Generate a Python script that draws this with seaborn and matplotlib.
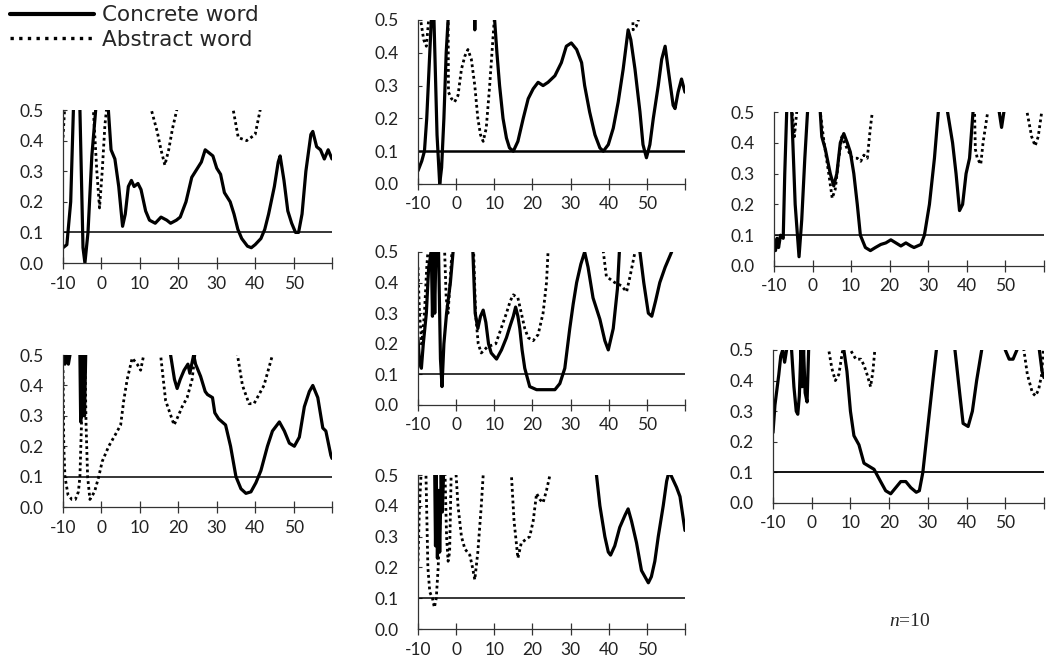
import matplotlib
matplotlib.use('Agg')
import matplotlib.pyplot as plt
import seaborn as sns
from matplotlib.lines import Line2D

# p-value curves, (time, p) pairs; 0.8 = off the top of the 0.5 scale
lt_concrete = [(-10, 0.05), (-9, 0.06), (-8, 0.2), (-7.3, 0.5), (-7, 0.8), (-6, 0.8), (-5.6, 0.5),
               (-4.8, 0.05), (-4.3, 0.0), (-3.5, 0.1), (-2.5, 0.35), (-1.5, 0.5), (-1, 0.8), (1.5, 0.8),
               (1.8, 0.5), (2.5, 0.37), (3.5, 0.34), (4.5, 0.25), (5.5, 0.12), (6.2, 0.16), (7, 0.25),
               (7.8, 0.27), (8.5, 0.25), (9.5, 0.26), (10.3, 0.24), (11.5, 0.17), (12.5, 0.14), (14, 0.13),
               (15.5, 0.15), (17, 0.14), (18, 0.13), (19.5, 0.14), (20.5, 0.15), (22, 0.2), (23.5, 0.28),
               (25, 0.31), (26, 0.33), (27, 0.37), (28, 0.36), (29, 0.35), (30, 0.31), (31, 0.29),
               (32, 0.23), (33.5, 0.2), (34.5, 0.16), (35.5, 0.11), (36.5, 0.08), (38, 0.055), (39, 0.05),
               (40, 0.06), (41.5, 0.08), (42.5, 0.11), (43.5, 0.16), (45, 0.25), (46, 0.33), (46.5, 0.35),
               (47.5, 0.27), (48.5, 0.17), (49.5, 0.13), (50.5, 0.1), (51.3, 0.1), (52.2, 0.16), (53.2, 0.3),
               (54.5, 0.42), (55, 0.43), (56, 0.38), (57, 0.37), (58, 0.34), (59, 0.37), (60, 0.34)]
lt_abstract = [(-10, 0.41), (-9.6, 0.5), (-9.3, 0.8), (-2.6, 0.8), (-2.1, 0.5), (-1.2, 0.3), (-0.5, 0.18),
               (0.2, 0.3), (0.9, 0.45), (1.3, 0.5), (1.8, 0.8), (12.5, 0.8), (13, 0.5), (14.5, 0.43),
               (15.5, 0.37), (16.5, 0.32), (17.5, 0.37), (18.5, 0.44), (19.6, 0.5), (20, 0.8), (34, 0.8),
               (34.3, 0.5), (35.6, 0.41), (37.8, 0.4), (40, 0.42), (41.3, 0.5), (41.8, 0.8), (60, 0.8)]

lb_concrete = [(-10, 0.8), (-9.9, 0.5), (-9.5, 0.47), (-9, 0.5), (-8.6, 0.47), (-8.2, 0.5), (-7.8, 0.8),
               (-6, 0.8), (-5.6, 0.5), (-5.4, 0.28), (-5.1, 0.5), (-4.9, 0.3), (-4.6, 0.5), (-4.4, 0.3),
               (-4.1, 0.5), (-3.8, 0.8), (17.5, 0.8), (18, 0.5), (19, 0.42), (19.7, 0.39), (20.5, 0.42),
               (21.5, 0.45), (22.5, 0.47), (23, 0.44), (24, 0.5), (24.5, 0.47), (25.8, 0.43), (27, 0.38),
               (27.6, 0.37), (28.9, 0.36), (29.5, 0.31), (30.5, 0.29), (32.3, 0.27), (33.6, 0.2), (35, 0.1),
               (36.3, 0.06), (37.6, 0.045), (38.9, 0.05), (40.2, 0.08), (41.5, 0.12), (43.2, 0.2),
               (44.5, 0.25), (46.3, 0.28), (47.6, 0.25), (48.9, 0.21), (50.2, 0.2), (51.5, 0.23),
               (52.8, 0.33), (54.1, 0.38), (55, 0.4), (56.3, 0.36), (57.6, 0.26), (58.4, 0.25),
               (59.7, 0.17), (60, 0.16)]
lb_abstract = [(-10, 0.45), (-9.8, 0.2), (-9.5, 0.1), (-8.7, 0.04), (-7.7, 0.025), (-6.8, 0.025),
               (-6.0, 0.05), (-5.6, 0.1), (-5.2, 0.27), (-5.0, 0.5), (-4.8, 0.8), (-4.5, 0.8), (-4.3, 0.5),
               (-4.0, 0.27), (-3.6, 0.1), (-3.0, 0.025), (-1.8, 0.05), (-0.7, 0.1), (0.2, 0.15), (1.9, 0.2),
               (3.7, 0.24), (5, 0.27), (5.8, 0.35), (6.7, 0.42), (8, 0.49), (9.3, 0.47), (10.2, 0.45),
               (11, 0.5), (11.4, 0.8), (15, 0.8), (15.4, 0.5), (16.7, 0.35), (18.9, 0.27), (20, 0.3),
               (21, 0.33), (22.3, 0.36), (23.6, 0.42), (24.3, 0.5), (24.8, 0.8), (35, 0.8), (35.4, 0.5),
               (36.7, 0.4), (38.4, 0.34), (39.7, 0.34), (42.3, 0.4), (44.5, 0.5), (45, 0.8), (60, 0.8)]

mt_concrete = [(-10, 0.04), (-9, 0.07), (-8.3, 0.1), (-7.7, 0.2), (-6.9, 0.4), (-6.5, 0.5), (-6.2, 0.8),
               (-5.8, 0.5), (-5.0, 0.15), (-4.3, 0.0), (-3.8, 0.05), (-3.2, 0.2), (-2.6, 0.4), (-2.1, 0.5),
               (-1.8, 0.8), (4.5, 0.8), (4.9, 0.47), (5.3, 0.8), (9.8, 0.8), (10.1, 0.5), (10.7, 0.4),
               (11.4, 0.3), (12.3, 0.2), (13.2, 0.14), (14, 0.11), (15, 0.1), (16.2, 0.13), (17.6, 0.2),
               (18.9, 0.26), (20.2, 0.29), (21.5, 0.31), (22.8, 0.3), (24.1, 0.31), (25.9, 0.33),
               (27.6, 0.37), (28.9, 0.42), (30.2, 0.43), (31.6, 0.41), (32.9, 0.37), (33.7, 0.3), (35, 0.22),
               (36.4, 0.15), (37.7, 0.11), (38.6, 0.1), (39.9, 0.12), (41.2, 0.17), (42.5, 0.25),
               (43.8, 0.35), (45.1, 0.47), (45.8, 0.44), (46.9, 0.35), (48.2, 0.22), (49, 0.12),
               (49.9, 0.08), (50.8, 0.12), (51.7, 0.2), (53, 0.3), (53.9, 0.38), (54.8, 0.42), (55.6, 0.35),
               (56.9, 0.24), (57.4, 0.23), (58.2, 0.28), (59.1, 0.32), (60, 0.28)]
mt_abstract = [(-9.6, 0.8), (-9.3, 0.5), (-8.5, 0.44), (-7.8, 0.42), (-7.2, 0.5), (-6.9, 0.8), (-2.4, 0.8),
               (-2.1, 0.5), (-2.0, 0.28), (-1.2, 0.26), (-0.4, 0.25), (0.5, 0.27), (1.4, 0.35), (2.3, 0.39),
               (3.1, 0.41), (4, 0.38), (4.9, 0.3), (5.7, 0.2), (6.4, 0.15), (7.1, 0.13), (7.9, 0.17),
               (8.8, 0.3), (9.7, 0.45), (10, 0.5), (10.3, 0.8), (45.8, 0.8), (46.4, 0.47), (47.2, 0.48),
               (47.8, 0.5), (48.2, 0.8)]

mm_concrete = [(-10, 0.22), (-9.6, 0.14), (-9.1, 0.12), (-8.6, 0.2), (-7.8, 0.3), (-7.2, 0.45), (-6.5, 0.5),
               (-6.2, 0.29), (-5.9, 0.5), (-5.6, 0.3), (-5.3, 0.5), (-5.0, 0.8), (-4.6, 0.5), (-4.1, 0.15),
               (-3.7, 0.06), (-3.2, 0.2), (-2.5, 0.3), (-1.5, 0.4), (-0.8, 0.5), (-0.5, 0.8), (4.1, 0.8),
               (4.4, 0.5), (5.0, 0.3), (5.7, 0.25), (6.4, 0.29), (7.1, 0.31), (7.8, 0.27), (8.5, 0.2),
               (9.2, 0.17), (10.6, 0.15), (11.9, 0.18), (13.2, 0.22), (14.2, 0.26), (15, 0.29), (15.6, 0.32),
               (16.2, 0.29), (16.7, 0.25), (17.3, 0.18), (18, 0.12), (19.3, 0.06), (21.1, 0.05),
               (23.7, 0.05), (25.9, 0.05), (27.2, 0.07), (28.5, 0.12), (29.8, 0.25), (30.7, 0.33),
               (31.6, 0.4), (32.7, 0.46), (33.7, 0.5), (34.6, 0.45), (35.9, 0.35), (37.7, 0.28), (39.0, 0.21),
               (39.9, 0.18), (41.2, 0.25), (42.3, 0.38), (42.8, 0.5), (43.2, 0.8), (47.8, 0.8), (48.2, 0.5),
               (49.2, 0.4), (50.4, 0.3), (51.3, 0.29), (52.3, 0.34), (53.4, 0.4), (54.8, 0.45), (56.5, 0.5),
               (57, 0.8), (60, 0.8)]
mm_abstract = [(-10, 0.45), (-9.6, 0.3), (-9.0, 0.2), (-8.3, 0.3), (-7.7, 0.45), (-7.4, 0.5), (-7.1, 0.8),
               (-3.3, 0.8), (-3.0, 0.5), (-2.6, 0.35), (-2.1, 0.3), (-1.5, 0.42), (-1.1, 0.5), (-0.8, 0.8),
               (4.3, 0.8), (4.6, 0.5), (5.1, 0.3), (5.8, 0.2), (6.6, 0.17), (8.2, 0.19), (10.4, 0.2),
               (11.8, 0.25), (13.2, 0.3), (14.2, 0.34), (15, 0.36), (16.2, 0.35), (17.1, 0.3), (18.0, 0.25),
               (18.9, 0.22), (20.2, 0.21), (21.5, 0.23), (22.8, 0.3), (23.7, 0.4), (24.1, 0.5), (24.4, 0.8),
               (38.3, 0.8), (38.6, 0.5), (39.4, 0.42), (41.6, 0.4), (43.3, 0.39), (44.7, 0.37), (45.6, 0.42),
               (46.9, 0.5), (47.3, 0.8), (60, 0.8)]

mb_concrete = [(-6.0, 0.8), (-5.6, 0.5), (-5.4, 0.27), (-5.2, 0.5), (-4.9, 0.23), (-4.6, 0.45), (-4.3, 0.25),
               (-3.9, 0.5), (-3.6, 0.38), (-3.3, 0.5), (-3.0, 0.8), (36.4, 0.8), (36.8, 0.5), (37.7, 0.4),
               (39, 0.3), (39.9, 0.25), (40.5, 0.24), (41.6, 0.27), (42.9, 0.33), (44.3, 0.37), (45.1, 0.39),
               (46, 0.35), (47.3, 0.28), (48.6, 0.19), (49.5, 0.17), (50.4, 0.15), (51.2, 0.17), (52.1, 0.22),
               (53, 0.3), (54.3, 0.4), (55.2, 0.48), (55.6, 0.5), (56, 0.8), (56.3, 0.5), (57.8, 0.46),
               (58.7, 0.43), (60, 0.32)]
mb_abstract = [(-10, 0.22), (-9.6, 0.4), (-9.2, 0.5), (-8.8, 0.8), (-8.2, 0.8), (-7.9, 0.5), (-7.4, 0.2),
               (-6.9, 0.12), (-6.2, 0.1), (-5.7, 0.07), (-5.2, 0.1), (-4.7, 0.2), (-4.2, 0.35), (-3.8, 0.5),
               (-3.5, 0.8), (-3.2, 0.8), (-2.9, 0.5), (-2.5, 0.3), (-2.1, 0.22), (-1.7, 0.25), (-1.3, 0.5),
               (-1.0, 0.8), (-0.3, 0.8), (0, 0.5), (0.5, 0.4), (1.4, 0.3), (2.3, 0.26), (3.6, 0.24),
               (4.3, 0.2), (4.9, 0.16), (5.7, 0.25), (6.6, 0.4), (7.1, 0.5), (7.5, 0.8), (14.2, 0.8),
               (14.5, 0.5), (15.2, 0.35), (16.2, 0.23), (17.1, 0.28), (18.2, 0.29), (19.3, 0.3), (20.2, 0.35),
               (21.1, 0.44), (22, 0.42), (22.8, 0.41), (23.7, 0.45), (24.6, 0.5), (25, 0.8), (60, 0.8)]

rt_concrete = [(-10, 0.07), (-9.6, 0.05), (-9.2, 0.09), (-8.8, 0.06), (-8.3, 0.1), (-7.6, 0.09), (-7.2, 0.3),
               (-6.7, 0.5), (-6.4, 0.8), (-5.7, 0.8), (-5.4, 0.5), (-4.5, 0.2), (-3.5, 0.03), (-2.8, 0.15),
               (-2.0, 0.35), (-1.3, 0.5), (-1.0, 0.8), (1.7, 0.8), (2.0, 0.5), (2.4, 0.42), (3.3, 0.38),
               (4.6, 0.3), (5.5, 0.26), (6.3, 0.3), (7.2, 0.4), (8.1, 0.43), (9, 0.4), (9.8, 0.37),
               (10.7, 0.3), (11.6, 0.2), (12.4, 0.1), (13.7, 0.06), (15, 0.05), (16.3, 0.06), (17.7, 0.07),
               (19, 0.075), (20.3, 0.085), (21.6, 0.075), (22.9, 0.065), (24.2, 0.075), (25.5, 0.065),
               (26.3, 0.06), (28.1, 0.07), (29, 0.1), (30.3, 0.2), (31.6, 0.35), (32.6, 0.5), (33, 0.8),
               (34.6, 0.8), (35, 0.5), (36.3, 0.4), (37.2, 0.3), (38.1, 0.18), (38.9, 0.2), (39.8, 0.3),
               (40.7, 0.35), (41.6, 0.5), (42, 0.8), (48, 0.8), (48.4, 0.5), (49, 0.45), (49.6, 0.5),
               (50, 0.8), (60, 0.8)]
rt_abstract = [(-5.6, 0.8), (-5.3, 0.5), (-4.7, 0.42), (-4.1, 0.5), (-3.8, 0.8), (1.7, 0.8), (2.0, 0.5),
               (3.0, 0.4), (4.2, 0.3), (5.1, 0.22), (5.9, 0.25), (6.8, 0.35), (7.6, 0.42), (9, 0.38),
               (10.3, 0.35), (11.6, 0.35), (12.5, 0.34), (13.3, 0.36), (14.2, 0.35), (15, 0.45), (15.5, 0.5),
               (16, 0.8), (41.7, 0.8), (42, 0.5), (42.2, 0.38), (42.7, 0.35), (43.6, 0.33), (44.2, 0.4),
               (45.4, 0.5), (45.8, 0.8), (55.3, 0.8), (55.6, 0.5), (56.8, 0.42), (57.7, 0.39), (58.5, 0.42),
               (59.4, 0.5), (59.8, 0.8)]

rb_concrete = [(-10, 0.23), (-9.5, 0.32), (-9, 0.37), (-8.5, 0.42), (-8, 0.48), (-7.5, 0.5), (-7, 0.46),
               (-6.5, 0.5), (-6.2, 0.8), (-5.5, 0.8), (-5.2, 0.5), (-4.6, 0.38), (-4, 0.3), (-3.6, 0.29),
               (-3.2, 0.35), (-2.8, 0.5), (-2.5, 0.38), (-2.1, 0.5), (-1.7, 0.36), (-1.2, 0.33), (-0.8, 0.5),
               (-0.5, 0.8), (8.0, 0.8), (8.3, 0.5), (9.1, 0.43), (10, 0.3), (10.9, 0.22), (12.2, 0.19),
               (13.5, 0.13), (14.8, 0.12), (16.1, 0.11), (17.8, 0.07), (19.1, 0.04), (20.4, 0.03),
               (21.7, 0.05), (23, 0.07), (24.3, 0.07), (25.6, 0.05), (27, 0.035), (27.8, 0.04), (28.7, 0.1),
               (30, 0.25), (31.3, 0.4), (32.2, 0.5), (32.6, 0.8), (36.6, 0.8), (37, 0.5), (38.3, 0.35),
               (39.1, 0.26), (40.4, 0.25), (41.5, 0.3), (42.6, 0.4), (43.9, 0.5), (44.3, 0.8), (49.5, 0.8),
               (50, 0.5), (51, 0.47), (52, 0.47), (53, 0.5), (53.5, 0.8), (58.5, 0.8), (58.8, 0.5),
               (59.5, 0.43), (60, 0.41)]
rb_abstract = [(4, 0.8), (4.4, 0.5), (5.2, 0.44), (6.1, 0.4), (7.0, 0.42), (8.0, 0.5), (8.5, 0.8), (9.6, 0.8),
               (10, 0.5), (11.4, 0.47), (12.7, 0.47), (13.5, 0.45), (14.3, 0.42), (15.2, 0.38), (15.8, 0.43),
               (16.3, 0.5), (16.7, 0.8), (54.4, 0.8), (54.8, 0.5), (55.7, 0.42), (57, 0.36), (57.8, 0.35),
               (58.6, 0.37), (59.4, 0.42), (59.8, 0.5), (60, 0.8)]

threshold = 0.1
x_ticks = [-10, 0, 10, 20, 30, 40, 50, 60]
x_labels = ['-10', '0', '10', '20', '30', '40', '50', '']
y_ticks = [0.0, 0.1, 0.2, 0.3, 0.4, 0.5]
y_labels = ['0.0', '0.1', '0.2', '0.3', '0.4', '0.5']

# axes rectangles in figure fractions (1052 x 664 px)
panels = [
    (lt_concrete, lt_abstract, [0.0599, 0.6039, 0.2557, 0.2304], 1.1),
    (lb_concrete, lb_abstract, [0.0599, 0.2364, 0.2557, 0.2289], 1.1),
    (mt_concrete, mt_abstract, [0.3973, 0.7229, 0.2538, 0.2470], 1.8),
    (mm_concrete, mm_abstract, [0.3973, 0.3901, 0.2538, 0.2304], 1.1),
    (mb_concrete, mb_abstract, [0.3973, 0.0527, 0.2538, 0.2319], 1.1),
    (rt_concrete, rt_abstract, [0.7357, 0.5994, 0.2567, 0.2319], 1.1),
    (rb_concrete, rb_abstract, [0.7348, 0.2425, 0.2576, 0.2304], 1.3),
]

sns.set_style('ticks')
plt.rcParams['font.family'] = ['Lato', 'DejaVu Sans']
plt.rcParams['mathtext.fontset'] = 'custom'
plt.rcParams['mathtext.it'] = 'Liberation Serif:italic'
plt.rcParams['mathtext.rm'] = 'Liberation Serif'

fig = plt.figure(figsize=(10.52, 6.64), dpi=100)

for concrete, abstract, rect, thr_lw in panels:
    ax = fig.add_axes(rect)
    cx, cy = zip(*concrete)
    ax_, ay = zip(*abstract)
    sns.lineplot(x=list(cx), y=list(cy), ax=ax, color='black', lw=2.3,
                 estimator=None, sort=False, solid_joinstyle='round')
    sns.lineplot(x=list(ax_), y=list(ay), ax=ax, color='black', lw=2.0,
                 linestyle=(0, (1, 1.1)), estimator=None, sort=False)
    ax.axhline(threshold, color='black', lw=thr_lw)
    ax.set_xlim(-10, 60)
    ax.set_ylim(0, 0.5)
    ax.set_xticks(x_ticks)
    ax.set_xticklabels(x_labels)
    ax.set_yticks(y_ticks)
    ax.set_yticklabels(y_labels)
    ax.set_xlabel('')
    ax.set_ylabel('')
    for side in ['top', 'right']:
        ax.spines[side].set_visible(False)
    for side in ['left', 'bottom']:
        ax.spines[side].set_linewidth(0.9)
        ax.spines[side].set_color('#333333')
    ax.tick_params(axis='x', direction='inout', length=8, width=0.9, color='#333333',
                   labelsize=12.5, pad=5, labelcolor='#222222')
    ax.tick_params(axis='y', direction='in', length=3, width=0.8, color='#333333',
                   labelsize=12.5, pad=14, labelcolor='#222222')

handles = [Line2D([], [], color='black', lw=3.0),
           Line2D([], [], color='black', lw=2.4, linestyle=(0, (1, 1.6)))]
fig.legend(handles, ['Concrete word', 'Abstract word'], loc='upper left',
           bbox_to_anchor=(0.0065, 0.997), frameon=False, handlelength=3.9,
           handletextpad=0.35, labelspacing=0.2, borderpad=0.15, borderaxespad=0,
           prop={'family': 'DejaVu Sans', 'size': 15.5})

fig.text(0.865, 1 - 622 / 664, r'$n$=10', ha='center', va='center',
         family='Liberation Serif', fontsize=14)

fig.savefig('out.png', dpi=100)
